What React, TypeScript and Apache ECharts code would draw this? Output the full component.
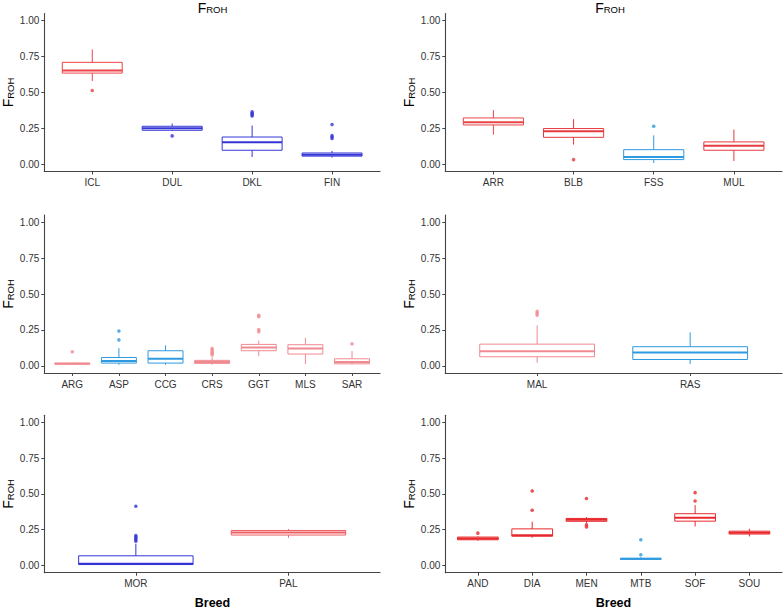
import { useEffect, useRef } from "react";
import * as echarts from "echarts";

const FONT = "'Liberation Sans', Arial, sans-serif";

// y ticks shared by all panels
const yTicks = [0, 0.25, 0.5, 0.75, 1];

// Panel 1
const cats1 = ["ICL", "DUL", "DKL", "FIN"];
const box1 = [
  [0.58, 0.635, 0.653, 0.71, 0.8],
  [0.232, 0.237, 0.251, 0.265, 0.284],
  [0.051, 0.098, 0.153, 0.19, 0.27],
  [0.047, 0.057, 0.067, 0.079, 0.093],
];
const out1: [string, number][] = [
  ["ICL", 0.514], ["DUL", 0.198],
  ["DKL", 0.365], ["DKL", 0.355], ["DKL", 0.345], ["DKL", 0.337],
  ["FIN", 0.277], ["FIN", 0.2], ["FIN", 0.19], ["FIN", 0.18],
];

// Panel 2
const cats2 = ["ARR", "BLB", "FSS", "MUL"];
const box2 = [
  [0.207, 0.274, 0.293, 0.323, 0.377],
  [0.137, 0.188, 0.23, 0.249, 0.314],
  [0.009, 0.033, 0.051, 0.102, 0.202],
  [0.023, 0.098, 0.13, 0.156, 0.242],
];
const out2: [string, number][] = [["BLB", 0.033], ["FSS", 0.265]];

// Panel 3
const cats3 = ["ARG", "ASP", "CCG", "CRS", "GGT", "MLS", "SAR"];
const box3 = [
  [0.008, 0.012, 0.015, 0.019, 0.022],
  [0.007, 0.019, 0.033, 0.058, 0.123],
  [0.007, 0.019, 0.049, 0.105, 0.142],
  [0.008, 0.017, 0.027, 0.038, 0.06],
  [0.068, 0.105, 0.127, 0.149, 0.176],
  [0.012, 0.082, 0.121, 0.147, 0.195],
  [0.007, 0.014, 0.026, 0.049, 0.102],
];
const out3: [string, number][] = [
  ["ARG", 0.098],
  ["ASP", 0.242], ["ASP", 0.181],
  ["CRS", 0.121], ["CRS", 0.11], ["CRS", 0.098], ["CRS", 0.088], ["CRS", 0.076],
  ["GGT", 0.352], ["GGT", 0.342], ["GGT", 0.252], ["GGT", 0.238],
  ["SAR", 0.153],
];

// Panel 4
const cats4 = ["MAL", "RAS"];
const box4 = [
  [0.021, 0.063, 0.102, 0.151, 0.281],
  [0.012, 0.044, 0.093, 0.133, 0.233],
];
const out4: [string, number][] = [["MAL", 0.379], ["MAL", 0.366], ["MAL", 0.353]];

// Panel 5
const cats5 = ["MOR", "PAL"];
const box5 = [
  [0.004, 0.007, 0.012, 0.068, 0.152],
  [0.194, 0.213, 0.231, 0.245, 0.255],
];
const out5: [string, number][] = [
  ["MOR", 0.414], ["MOR", 0.21], ["MOR", 0.2], ["MOR", 0.19], ["MOR", 0.18], ["MOR", 0.17],
];

// Panel 6
const cats6 = ["AND", "DIA", "MEN", "MTB", "SOF", "SOU"];
const box6 = [
  [0.173, 0.18, 0.189, 0.199, 0.203],
  [0.194, 0.205, 0.212, 0.256, 0.306],
  [0.297, 0.309, 0.32, 0.329, 0.338],
  [0.04, 0.043, 0.047, 0.05, 0.058],
  [0.273, 0.31, 0.333, 0.362, 0.422],
  [0.203, 0.22, 0.229, 0.24, 0.257],
];
const out6: [string, number][] = [
  ["AND", 0.226],
  ["DIA", 0.521], ["DIA", 0.386],
  ["MEN", 0.468], ["MEN", 0.284], ["MEN", 0.27],
  ["MTB", 0.18], ["MTB", 0.075],
  ["SOF", 0.509], ["SOF", 0.451],
];

const RED = "#e8282c";
const BLUE = "#3535d6";
const SKY = "#2f9ae0";
const PINK = "#f08a91";
const breedColor: Record<string, string> = {
  ICL: "#ec4448", DUL: BLUE, DKL: BLUE, FIN: BLUE,
  ARR: "#e8454a", BLB: "#e53a3e", FSS: SKY, MUL: "#e53a3e",
  ARG: PINK, ASP: SKY, CCG: SKY, CRS: PINK, GGT: PINK, MLS: PINK, SAR: PINK,
  MAL: PINK, RAS: SKY,
  MOR: BLUE, PAL: "#ee5f64",
  AND: RED, DIA: RED, MEN: RED, MTB: SKY, SOF: RED, SOU: RED,
};

type Panel = {
  cats: string[];
  boxes: number[][];
  outs: [string, number][];
  left: number;
  top: number;
  width: number;
  height: number;
};

const LX = 44.3;
const RX = 445.3;
const LW = 335.7;
const RW = 336.7;
const panels: Panel[] = [
  { cats: cats1, boxes: box1, outs: out1, left: LX, top: 13.5, width: LW, height: 158 },
  { cats: cats2, boxes: box2, outs: out2, left: RX, top: 13.5, width: RW, height: 158 },
  { cats: cats3, boxes: box3, outs: out3, left: LX, top: 215, width: LW, height: 158 },
  { cats: cats4, boxes: box4, outs: out4, left: RX, top: 215, width: RW, height: 158 },
  { cats: cats5, boxes: box5, outs: out5, left: LX, top: 415.2, width: LW, height: 157.5 },
  { cats: cats6, boxes: box6, outs: out6, left: RX, top: 415.2, width: RW, height: 157.5 },
];

const AXIS_COLOR = "#444444";
const LABEL_COLOR = "#333333";

function froh(x: number, y: number, rotate: boolean) {
  return {
    type: "text",
    x,
    y,
    rotation: rotate ? Math.PI / 2 : 0,
    style: {
      text: "{f|F}{s|ROH}",
      align: "center",
      verticalAlign: "middle",
      rich: {
        f: { fontSize: 14, fontFamily: FONT, fill: "#000" },
        s: { fontSize: 9.5, fontFamily: FONT, fill: "#000", padding: [4, 0, 0, 0] },
      },
    },
  };
}

export default function App() {
  const ref = useRef<HTMLDivElement>(null);
  useEffect(() => {
    if (!ref.current) return;
    const chart = echarts.init(ref.current, undefined, { renderer: "svg" });
    const grid: any[] = [];
    const xAxis: any[] = [];
    const yAxis: any[] = [];
    const series: any[] = [];
    const graphic: any[] = [];

    panels.forEach((p, i) => {
      grid.push({ left: p.left, top: p.top, width: p.width, height: p.height, containLabel: false });
      const n = p.cats.length;
      const ticks = p.cats.map((_, k) => k + 1);
      xAxis.push({
        type: "value",
        gridIndex: i,
        min: 0.4,
        max: n + 0.6,
        axisLine: { show: true, onZero: false, lineStyle: { color: AXIS_COLOR, width: 1.1 } },
        axisTick: { show: true, length: 3, customValues: ticks, lineStyle: { color: AXIS_COLOR, width: 1 } },
        axisLabel: {
          show: true,
          customValues: ticks,
          formatter: (v: number) => p.cats[Math.round(v) - 1] ?? "",
          fontFamily: FONT,
          fontSize: 10,
          color: LABEL_COLOR,
          margin: 6,
        },
        splitLine: { show: false },
      });
      yAxis.push({
        type: "value",
        gridIndex: i,
        min: -0.05,
        max: 1.05,
        axisLine: { show: true, onZero: false, lineStyle: { color: AXIS_COLOR, width: 1.1 } },
        axisTick: { show: true, length: 3, customValues: yTicks, lineStyle: { color: AXIS_COLOR, width: 1 } },
        axisLabel: {
          show: true,
          customValues: yTicks,
          formatter: (v: number) => v.toFixed(2),
          fontFamily: FONT,
          fontSize: 10,
          color: LABEL_COLOR,
          margin: 5,
        },
        splitLine: { show: false },
      });
      series.push({
        type: "custom",
        xAxisIndex: i,
        yAxisIndex: i,
        encode: { x: 0, y: [1, 2, 3, 4, 5] },
        data: p.boxes.map((b, k) => [k + 1, ...b]),
        renderItem: (_params: any, api: any) => {
          const x = api.value(0);
          const color = breedColor[p.cats[Math.round(x) - 1]];
          const pLo = api.coord([x, api.value(1)]);
          const pQ1 = api.coord([x, api.value(2)]);
          const pMed = api.coord([x, api.value(3)]);
          const pQ3 = api.coord([x, api.value(4)]);
          const pHi = api.coord([x, api.value(5)]);
          const half = api.size([0.75, 0])[0] / 2;
          const cx = pMed[0];
          return {
            type: "group",
            children: [
              { type: "line", shape: { x1: cx, y1: pHi[1], x2: cx, y2: pQ3[1] }, style: { stroke: color, lineWidth: 1 } },
              { type: "line", shape: { x1: cx, y1: pQ1[1], x2: cx, y2: pLo[1] }, style: { stroke: color, lineWidth: 1 } },
              {
                type: "rect",
                shape: { x: cx - half, y: pQ3[1], width: half * 2, height: pQ1[1] - pQ3[1] },
                style: { fill: "none", stroke: color, lineWidth: 1 },
              },
              {
                type: "line",
                shape: { x1: cx - half, y1: pMed[1], x2: cx + half, y2: pMed[1] },
                style: { stroke: color, lineWidth: 2 },
              },
            ],
          };
        },
      });
      series.push({
        type: "scatter",
        xAxisIndex: i,
        yAxisIndex: i,
        symbol: "circle",
        symbolSize: 3.6,
        data: p.outs.map(([c, v]) => [p.cats.indexOf(c) + 1, v]),
        itemStyle: {
          color: (prm: any) => breedColor[p.cats[Math.round(prm.value[0]) - 1]],
        },
      });
      // y axis title
      graphic.push(froh(p.left - 36, p.top + p.height / 2, true));
    });

    graphic.push(froh(212.5, 7.5, false));
    graphic.push(froh(610, 7.5, false));
    [212.5, 613.5].forEach((x) =>
      graphic.push({
        type: "text",
        x,
        y: 602.5,
        style: {
          text: "Breed",
          align: "center",
          verticalAlign: "middle",
          fontFamily: FONT,
          fontSize: 12.5,
          fontWeight: "bold",
          fill: "#000",
        },
      })
    );

    chart.setOption({
      animation: false,
      backgroundColor: "#ffffff",
      grid,
      xAxis,
      yAxis,
      series,
      graphic,
    });
    return () => chart.dispose();
  }, []);
  return (
    <div
      ref={ref}
      style={{ position: "fixed", left: 0, top: 0, width: 783, height: 608 }}
    />
  );
}
